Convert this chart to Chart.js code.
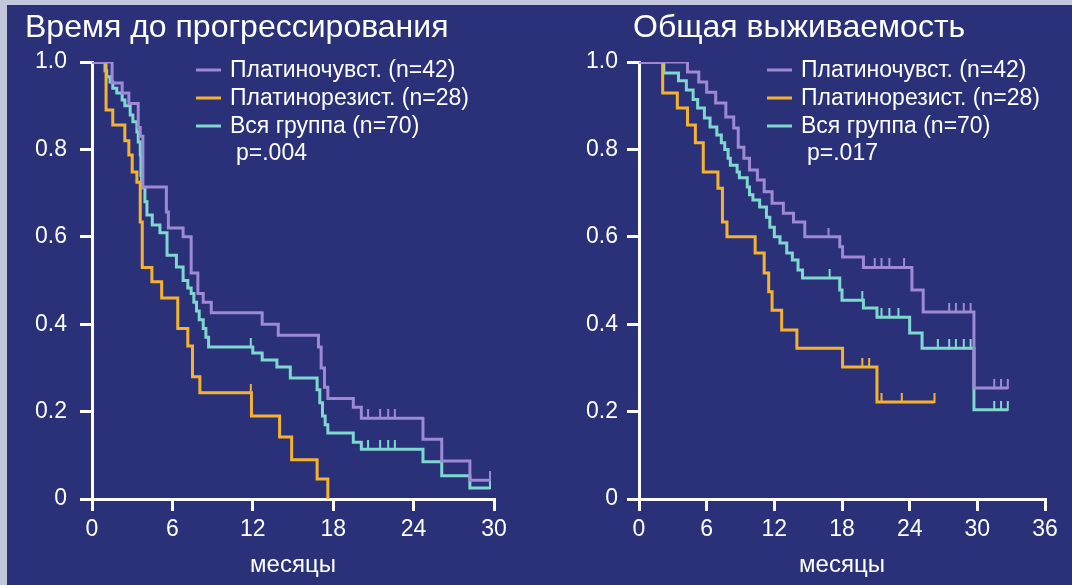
<!DOCTYPE html>
<html>
<head>
<meta charset="utf-8">
<script src="https://cdn.jsdelivr.net/npm/chart.js@4/dist/chart.umd.min.js"></script>
<style>
  html, body { margin: 0; padding: 0; }
  body { width: 1072px; height: 585px; background: #c3c7de; overflow: hidden; position: relative; }
  #panel { position: absolute; left: 7px; top: 5px; right: 0; bottom: 0; background: #2a3178; }
  canvas { position: absolute; top: 0; }
  #ttp { left: 0; }
  #os { left: 540px; }
</style>
</head>
<body>
<div id="panel"></div>
<canvas id="ttp" width="540" height="585"></canvas>
<canvas id="os" width="532" height="585"></canvas>
<script>
// ---------- Время до прогрессирования (Kaplan–Meier, months / share) ----------
const ttpSensT = [0, 1.5, 2.25, 2.75, 3.45, 3.6, 3.8, 5.55, 5.7, 6.8, 7.4, 7.9, 8.3, 8.9, 12.7, 13.9, 16.9, 17.1, 17.35, 17.6, 19.5, 20.1, 24.7, 26.1, 28.2, 29.7];
const ttpSensS = [1, 0.952, 0.929, 0.905, 0.85, 0.83, 0.714, 0.657, 0.62, 0.6, 0.517, 0.47, 0.45, 0.426, 0.40, 0.375, 0.348, 0.30, 0.256, 0.23, 0.21, 0.185, 0.137, 0.087, 0.043, 0.043];
const ttpSensCens = [20.6, 21.5, 22.1, 22.6, 29.7];

const ttpResT = [0, 1.05, 1.55, 2.45, 2.75, 3.0, 3.35, 3.6, 3.75, 4.47, 5.2, 6.4, 7.15, 7.5, 8.05, 11.9, 14.0, 14.9, 16.8, 17.6];
const ttpResS = [1, 0.89, 0.856, 0.82, 0.787, 0.748, 0.725, 0.634, 0.53, 0.497, 0.46, 0.39, 0.35, 0.28, 0.243, 0.19, 0.142, 0.09, 0.046, 0];
const ttpResCens = [11.85];

const ttpAllT = [0, 0.97, 1.1, 1.35, 1.55, 1.85, 2.25, 2.45, 2.85, 3.05, 3.35, 3.45, 3.6, 3.65, 3.7, 3.95, 4.1, 4.5, 5.07, 5.6, 6.3, 6.8, 7.15, 7.4, 7.6, 7.8, 8.0, 8.3, 8.5, 8.7, 12.0, 12.7, 13.8, 14.8, 16.8, 17.0, 17.2, 17.4, 17.6, 19.5, 20.1, 24.7, 26.1, 28.2, 29.7];
const ttpAllS = [1, 0.98, 0.966, 0.954, 0.94, 0.929, 0.913, 0.9, 0.879, 0.863, 0.84, 0.817, 0.787, 0.741, 0.712, 0.68, 0.65, 0.627, 0.609, 0.558, 0.531, 0.50, 0.483, 0.47, 0.45, 0.43, 0.41, 0.39, 0.37, 0.348, 0.334, 0.318, 0.302, 0.277, 0.25, 0.22, 0.19, 0.17, 0.151, 0.13, 0.114, 0.085, 0.053, 0.025, 0.025];
const ttpAllCens = [11.85, 20.6, 21.5, 22.1, 22.6, 29.7];

// ---------- Общая выживаемость ----------
const osSensT = [0, 4.3, 5.3, 6.0, 6.8, 7.7, 8.4, 8.8, 9.3, 9.8, 10.5, 11.1, 11.8, 12.8, 13.7, 14.7, 17.8, 18.05, 19.9, 24.2, 25.2, 29.7, 32.7];
const osSensS = [1, 0.977, 0.954, 0.931, 0.906, 0.874, 0.849, 0.805, 0.78, 0.753, 0.73, 0.703, 0.677, 0.654, 0.634, 0.6, 0.577, 0.554, 0.53, 0.478, 0.428, 0.254, 0.254];
const osSensCens = [3.5, 16.8, 20.9, 21.5, 22.2, 23.5, 27.5, 28.1, 28.8, 29.4, 31.5, 32.1, 32.7];

const osResT = [0, 2.1, 3.4, 4.3, 5.0, 5.7, 7.0, 7.4, 7.8, 10.3, 11.1, 11.5, 11.8, 12.65, 14.0, 18.05, 21.1, 26.2];
const osResS = [1, 0.929, 0.895, 0.856, 0.815, 0.748, 0.711, 0.634, 0.6, 0.563, 0.517, 0.474, 0.432, 0.387, 0.345, 0.302, 0.222, 0.222];
const osResCens = [19.8, 20.4, 21.5, 23.3, 26.2];

const osAllT = [0, 2.2, 3.5, 4.2, 4.8, 5.2, 5.8, 6.3, 6.9, 7.3, 7.6, 7.9, 8.1, 8.7, 8.9, 9.6, 9.8, 10.1, 10.7, 11.3, 11.6, 12.0, 12.5, 13.1, 13.6, 14.1, 14.5, 17.8, 18.0, 19.9, 21.1, 24.0, 25.1, 29.7, 32.7];
const osAllS = [1, 0.975, 0.957, 0.936, 0.914, 0.895, 0.872, 0.851, 0.833, 0.815, 0.80, 0.78, 0.764, 0.748, 0.735, 0.714, 0.696, 0.684, 0.668, 0.645, 0.622, 0.60, 0.586, 0.563, 0.547, 0.524, 0.506, 0.478, 0.455, 0.437, 0.416, 0.38, 0.345, 0.204, 0.204];
const osAllCens = [16.9, 19.8, 21.5, 22.2, 23.0, 26.5, 27.5, 28.1, 28.8, 29.4, 31.5, 32.1, 32.7];

// ---------- Labels and ticks ----------
const panelTitles = ['Время до прогрессирования', 'Общая выживаемость'];
const groupLabels = ['Платиночувст. (n=42)', 'Платинорезист. (n=28)', 'Вся группа (n=70)'];
const pValues = ['p=.004', 'p=.017'];
const xAxisTitle = 'месяцы';
const ttpXTicks = [0, 6, 12, 18, 24, 30];
const osXTicks = [0, 6, 12, 18, 24, 30, 36];
const yTickValues = [0, 0.2, 0.4, 0.6, 0.8, 1.0];
const yTickLabels = ['0', '0.2', '0.4', '0.6', '0.8', '1.0'];

// ---------- Styling ----------
const COL_SENS = '#9d89d4';
const COL_RES = '#f4b233';
const COL_ALL = '#7fd7cf';
const WHITE = '#ffffff';
const FONT = '"Liberation Sans", Arial, sans-serif';

// value of a step curve at time t
function survivalAt(T, S, t) {
  let v = S[0];
  for (let i = 0; i < T.length; i++) { if (T[i] <= t) v = S[i]; }
  return v;
}
function curvePoints(T, S) { return T.map((t, i) => ({ x: t, y: S[i] })); }
function censorPoints(T, S, C) { return C.map(t => ({ x: t, y: survivalAt(T, S, t) })); }

// small upward tick used as the censoring marker
function censorMark(color) {
  const h = 9, c = document.createElement('canvas');
  c.width = 4; c.height = h * 2;
  const g = c.getContext('2d');
  g.fillStyle = color;
  g.fillRect(1, 0, 2, h + 1);
  return c;
}

function curveDataset(T, S, color) {
  return { data: curvePoints(T, S), borderColor: color, borderWidth: 3, stepped: 'before',
           pointRadius: 0, fill: false, tension: 0 };
}
function censorDataset(T, S, C, color) {
  return { data: censorPoints(T, S, C), showLine: false, pointStyle: censorMark(color),
           pointRadius: 3, pointHoverRadius: 3, borderColor: color, backgroundColor: color };
}

// titles, legend rows and p-value drawn inside each panel
const panelText = {
  id: 'panelText',
  afterDraw(chart, args, o) {
    const ctx = chart.ctx;
    ctx.save();
    ctx.fillStyle = WHITE;
    ctx.textBaseline = 'alphabetic';
    ctx.textAlign = 'left';
    ctx.font = '32px ' + FONT;
    ctx.fillText(o.title, o.titleX, o.titleY);

    ctx.font = '23px ' + FONT;
    ctx.textBaseline = 'middle';
    const colors = [COL_SENS, COL_RES, COL_ALL];
    groupLabels.forEach((lab, i) => {
      const y = o.legY + i * o.legGap;
      ctx.strokeStyle = colors[i];
      ctx.lineWidth = 3;
      ctx.beginPath();
      ctx.moveTo(o.legX, y);
      ctx.lineTo(o.legX + 25, y);
      ctx.stroke();
      ctx.fillText(lab, o.legX + 34, y + 1);
    });
    ctx.fillText(o.p, o.legX + 40, o.legY + 3 * o.legGap);
    ctx.restore();
  }
};

function makePanel(id, cfg) {
  const tickFont = { family: FONT, size: 23 };
  new Chart(document.getElementById(id), {
    type: 'line',
    data: { datasets: [
      curveDataset(cfg.sens[0], cfg.sens[1], COL_SENS),
      curveDataset(cfg.res[0], cfg.res[1], COL_RES),
      curveDataset(cfg.all[0], cfg.all[1], COL_ALL),
      censorDataset(cfg.sens[0], cfg.sens[1], cfg.sens[2], COL_SENS),
      censorDataset(cfg.res[0], cfg.res[1], cfg.res[2], COL_RES),
      censorDataset(cfg.all[0], cfg.all[1], cfg.all[2], COL_ALL)
    ] },
    options: {
      responsive: false,
      animation: false,
      events: [],
      layout: { padding: { left: 0, right: cfg.padRight, top: 62, bottom: 0 } },
      plugins: {
        legend: { display: false },
        tooltip: { enabled: false },
        panelText: cfg.text
      },
      scales: {
        x: {
          type: 'linear', min: 0, max: cfg.xTicks[cfg.xTicks.length - 1],
          afterBuildTicks: ax => { ax.ticks = cfg.xTicks.map(v => ({ value: v })); },
          afterFit: s => { s.height = 86; },
          grid: { drawOnChartArea: false, drawTicks: true, tickLength: 12, color: WHITE, lineWidth: 3 },
          border: { display: true, color: WHITE, width: 3 },
          ticks: { color: WHITE, font: tickFont, padding: 5, maxRotation: 0, autoSkip: false },
          title: { display: true, text: xAxisTitle, color: WHITE, font: { family: FONT, size: 24 },
                   padding: { top: 0, bottom: 5 } }
        },
        y: {
          type: 'linear', min: 0, max: 1,
          afterBuildTicks: ax => { ax.ticks = yTickValues.map(v => ({ value: v })); },
          afterFit: s => { s.width = cfg.yWidth; },
          grid: { drawOnChartArea: false, drawTicks: true, tickLength: 12, color: WHITE, lineWidth: 3 },
          border: { display: true, color: WHITE, width: 3 },
          ticks: { color: WHITE, font: tickFont, padding: cfg.yPad,
                   callback: v => yTickLabels[yTickValues.indexOf(v)] ?? '' }
        }
      }
    },
    plugins: [panelText]
  });
}

makePanel('ttp', {
  sens: [ttpSensT, ttpSensS, ttpSensCens],
  res: [ttpResT, ttpResS, ttpResCens],
  all: [ttpAllT, ttpAllS, ttpAllCens],
  xTicks: ttpXTicks, padRight: 46, yWidth: 92, yPad: 13,
  text: { title: panelTitles[0], titleX: 25, titleY: 37, legX: 196, legY: 70, legGap: 28, p: pValues[0] }
});
makePanel('os', {
  sens: [osSensT, osSensS, osSensCens],
  res: [osResT, osResS, osResCens],
  all: [osAllT, osAllS, osAllCens],
  xTicks: osXTicks, padRight: 27, yWidth: 99, yPad: 9,
  text: { title: panelTitles[1], titleX: 93, titleY: 37, legX: 227, legY: 70, legGap: 28, p: pValues[1] }
});
</script>
</body>
</html>
